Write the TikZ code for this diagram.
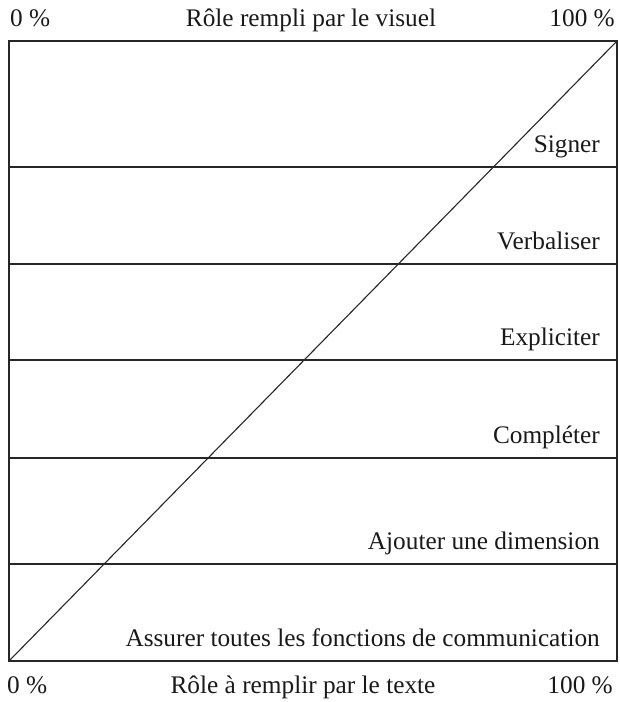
\documentclass[tikz,border=0pt]{standalone}
\usepackage{fontspec}
\setmainfont{Liberation Serif}
\begin{document}
\begin{tikzpicture}[x=1pt,y=-1pt]
\tikzset{
  frame/.style={draw=black!85, line width=1.1pt},
  lab/.style={font=\fontsize{25.3}{28}\selectfont, inner sep=0pt, text=black!90}
}
\useasboundingbox (0,0) rectangle (619,702);
\coordinate (bl) at (9,661);
\coordinate (tr) at (617,41);
\draw[frame] (bl) rectangle (tr);
\foreach \yy in {167,264,360,458,564} {
  \draw[frame] (9,\yy) -- (617,\yy);
}
\draw[frame] (bl) -- (tr);
% top labels
\node[lab, anchor=base west] (tl) at (10,26) {0 \%};
\node[lab, anchor=base] (tc) at (311,26) {Rôle rempli par le visuel};
\node[lab, anchor=base east] (tright) at (615,26) {100 \%};
% bottom labels
\node[lab, anchor=base west] (bleft) at (7,693) {0 \%};
\node[lab, anchor=base] (bc) at (303,693) {Rôle à remplir par le texte};
\node[lab, anchor=base east] (bright) at (613,693) {100 \%};
% row labels
\node[lab, anchor=base east] (r1) at (600,152) {Signer};
\node[lab, anchor=base east] (r2) at (600,249) {Verbaliser};
\node[lab, anchor=base east] (r3) at (600,345) {Expliciter};
\node[lab, anchor=base east] (r4) at (600,443) {Compléter};
\node[lab, anchor=base east] (r5) at (600,549) {Ajouter une dimension};
\node[lab, anchor=base east] (r6) at (600,646) {Assurer toutes les fonctions de communication};
\end{tikzpicture}
\end{document}
